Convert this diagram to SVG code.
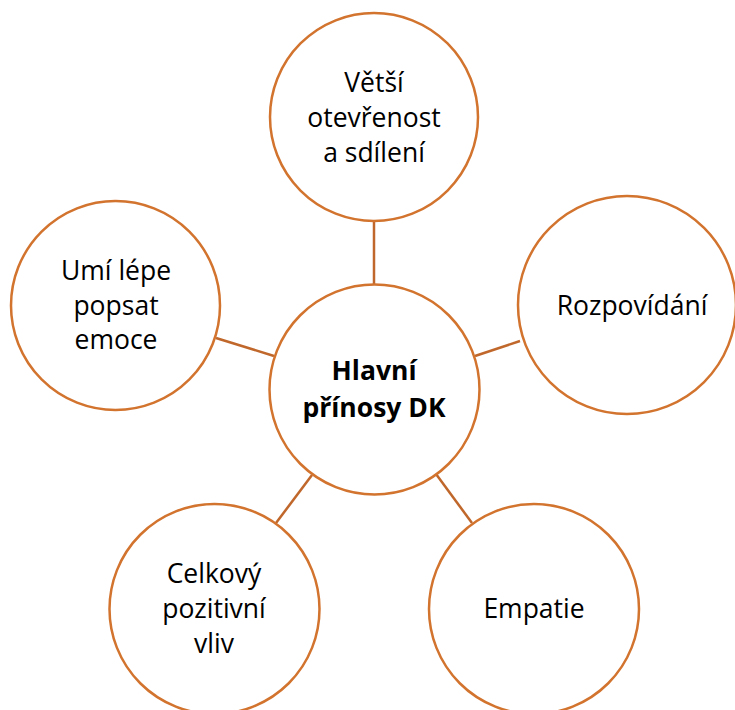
<svg xmlns="http://www.w3.org/2000/svg" width="735" height="710" viewBox="0 0 735 710">
<style>
.n{fill:#fff;stroke:#D2732E;stroke-width:2.5}
.c{stroke:#C0672B;stroke-width:2.5;fill:none}
text{font-family:"Open Sans","Liberation Sans",sans-serif;font-size:26.5px;fill:#000;text-anchor:middle}
.b{font-weight:bold}
</style>
<rect width="735" height="710" fill="#fff"/>
<g id="connectors">
<line class="c" x1="374" y1="221" x2="374" y2="285"/>
<line class="c" x1="216" y1="338" x2="274" y2="356"/>
<line class="c" x1="475" y1="356" x2="520" y2="341"/>
<line class="c" x1="312" y1="475" x2="276" y2="523"/>
<line class="c" x1="436" y1="474" x2="472" y2="523"/>
</g>
<g id="center"><circle class="n" cx="374.5" cy="389.5" r="105"/><text class="b" x="374" y="380">Hlavní</text><text class="b" x="374" y="417">přínosy DK</text></g>
<g id="top"><circle class="n" cx="374" cy="117" r="104"/><text x="374" y="92">Větší</text><text x="374" y="127">otevřenost</text><text x="374" y="162">a sdílení</text></g>
<g id="left"><circle class="n" cx="115.5" cy="305.5" r="104.5"/><text x="116" y="280">Umí lépe</text><text x="116" y="315">popsat</text><text x="116" y="349">emoce</text></g>
<g id="right"><circle class="n" cx="627" cy="305" r="109"/><text x="632" y="315">Rozpovídání</text></g>
<g id="bottomleft"><circle class="n" cx="214.5" cy="609" r="105"/><text x="214" y="583">Celkový</text><text x="214" y="618">pozitivní</text><text x="214" y="653">vliv</text></g>
<g id="bottomright"><circle class="n" cx="534" cy="609" r="105"/><text x="534" y="618">Empatie</text></g>
</svg>
